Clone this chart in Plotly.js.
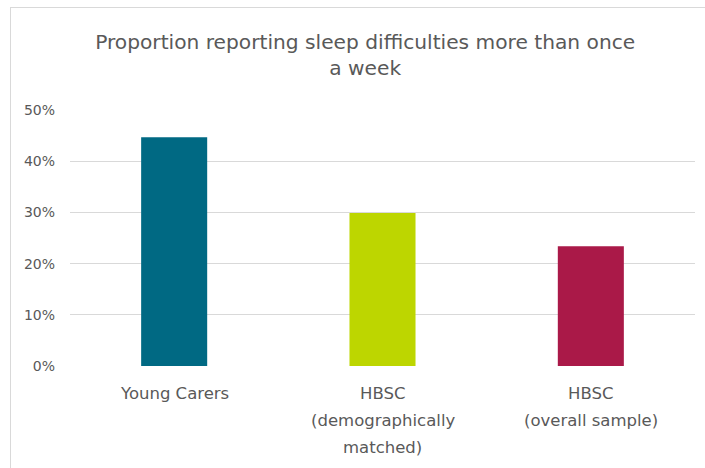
<!DOCTYPE html>
<html>
<head>
<meta charset="utf-8">
<script src="https://cdn.plot.ly/plotly-3.0.1.min.js"></script>
<style>
  html, body { margin: 0; padding: 0; background: #ffffff; overflow: hidden; }
  #frame { position: absolute; left: 10px; top: 7px; width: 800px; height: 600px; border: 1px solid #d9d9d9; box-sizing: border-box; }
  #chart { position: absolute; left: 0; top: 0; width: 705px; height: 468px; }
</style>
</head>
<body>
<div id="frame"></div>
<div id="chart"></div>
<script>
const chartTitle = "Proportion reporting sleep difficulties more than once<br>a week";
const categories = ["Young Carers", "HBSC<br>(demographically<br>matched)", "HBSC<br>(overall sample)"];
const values = [0.447, 0.299, 0.234];
const barColors = ["#006983", "#BDD600", "#AA1948"];
const yTickVals = [0, 0.1, 0.2, 0.3, 0.4, 0.5];
const yTickText = ["0%", "10%", "20%", "30%", "40%", "50%"];

const font = "'DejaVu Sans', sans-serif";
const textColor = "#595959";

const trace = {
  type: "bar",
  x: categories,
  y: values,
  marker: { color: barColors },
  hoverinfo: "skip"
};

const annotations = [];
categories.forEach(function (cat) {
  cat.split("<br>").forEach(function (line, i) {
    annotations.push({
      x: cat, xref: "x",
      y: 0, yref: "y",
      yanchor: "middle", xanchor: "center",
      yshift: -27 - i * 27,
      text: line,
      showarrow: false,
      font: { family: font, size: 16.5, color: textColor }
    });
  });
});

const layout = {
  width: 705, height: 468,
  margin: { l: 70, r: 10, t: 110, b: 102 },
  paper_bgcolor: "rgba(0,0,0,0)",
  plot_bgcolor: "rgba(0,0,0,0)",
  showlegend: false,
  bargap: 0.683,
  title: {
    text: chartTitle,
    font: { family: font, size: 20.2, color: textColor },
    x: 0.518, xanchor: "center",
    y: 0.896, yanchor: "middle"
  },
  xaxis: {
    type: "category",
    showticklabels: false,
    showgrid: false,
    showline: false,
    zeroline: false,
    fixedrange: true
  },
  yaxis: {
    range: [0, 0.5],
    tickvals: yTickVals,
    ticktext: yTickText,
    showgrid: true,
    gridcolor: "#d9d9d9",
    gridwidth: 1,
    zeroline: false,
    showline: false,
    ticklabelstandoff: 14,
    tickfont: { family: font, size: 14, color: textColor },
    fixedrange: true
  },
  annotations: annotations
};

Plotly.newPlot("chart", [trace], layout, { displayModeBar: false, staticPlot: true });
</script>
</body>
</html>
